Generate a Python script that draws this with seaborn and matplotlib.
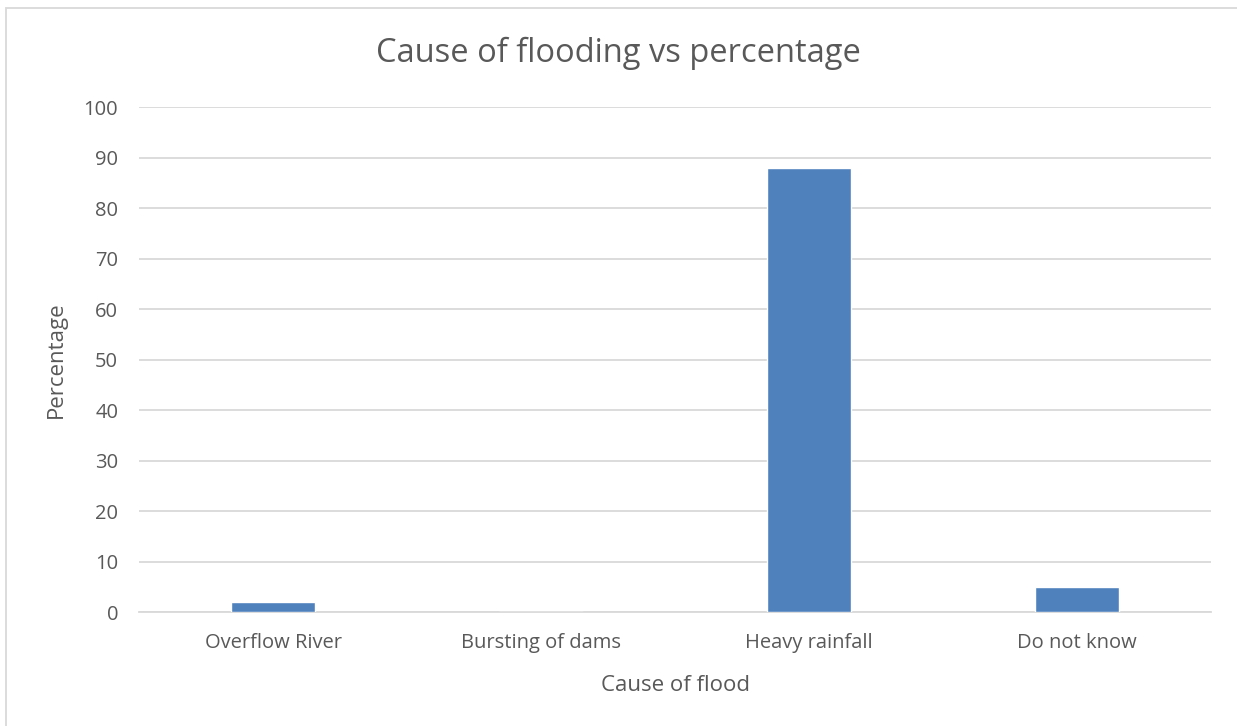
import matplotlib
matplotlib.use("Agg")
import matplotlib.pyplot as plt
import seaborn as sns
import pandas as pd
from matplotlib.patches import Rectangle

causes = ["Overflow River", "Bursting of dams", "Heavy rainfall", "Do not know"]
percentages = [2, 0, 88, 5]
y_ticks = [0, 10, 20, 30, 40, 50, 60, 70, 80, 90, 100]

sns.set_theme(style="white")
plt.rcParams["font.family"] = ["Open Sans", "DejaVu Sans"]

text_color = "#595959"
grid_color = "#d9d9d9"
bar_color = "#4f81bd"

df = pd.DataFrame({"cause": causes, "pct": percentages})

fig = plt.figure(figsize=(12.37, 7.26), dpi=100)
ax = fig.add_axes([0.1124, 0.157, 0.979 - 0.1124, 0.8526 - 0.157])

sns.barplot(data=df, x="cause", y="pct", color=bar_color, width=0.31,
            saturation=1, ax=ax, zorder=3)

ax.set_ylim(0, 100)
ax.set_yticks(y_ticks)
ax.set_yticklabels([str(t) for t in y_ticks])
ax.yaxis.grid(True, color=grid_color, linewidth=1.3, zorder=0)
ax.set_axisbelow(True)
for side in ["top", "right", "left"]:
    ax.spines[side].set_visible(False)
ax.spines["bottom"].set_color(grid_color)
ax.spines["bottom"].set_linewidth(1.3)
ax.tick_params(axis="both", length=0, colors=text_color, labelsize=14.5)
ax.tick_params(axis="y", pad=15)
ax.tick_params(axis="x", pad=15)

ax.set_xlabel("Cause of flood", fontsize=16, color=text_color, labelpad=16)
ax.set_ylabel("Percentage", fontsize=16, color=text_color, labelpad=12)
fig.text(0.5, 0.926, "Cause of flooding vs percentage", fontsize=23.5,
         color=text_color, ha="center", va="center")

# light frame around the chart area
fig.patches.append(Rectangle((6 / 1237, -0.05), 1.2, 1 - 8 / 726 + 0.05,
                             transform=fig.transFigure, fill=False,
                             edgecolor=grid_color, linewidth=1.3))

fig.savefig("out.png", dpi=100)
